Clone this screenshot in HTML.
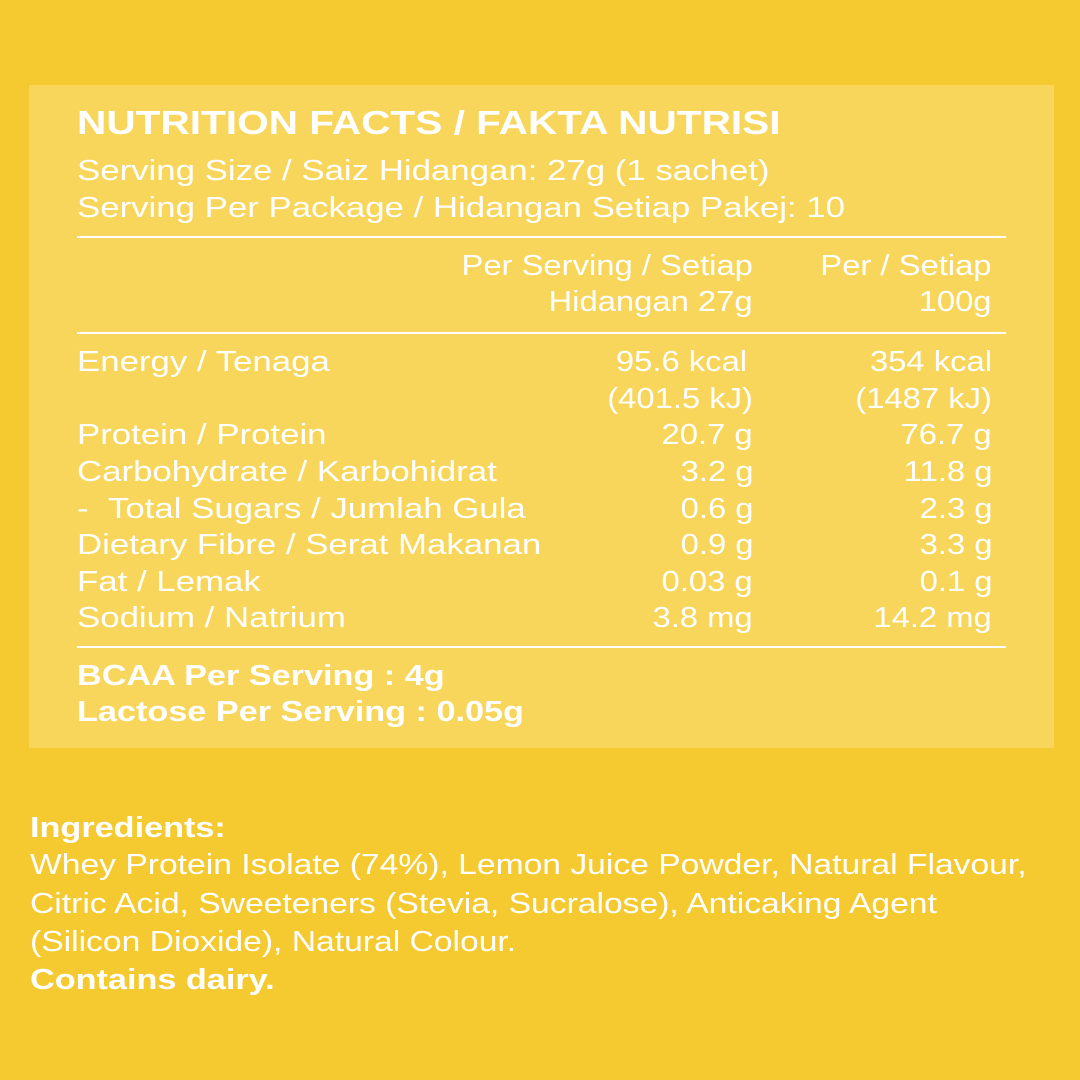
<!DOCTYPE html>
<html><head><meta charset="utf-8"><style>
body{margin:0;width:1080px;height:1080px;background:#F5CA30;position:relative;overflow:hidden;font-family:"Liberation Sans",sans-serif;color:#fff}
.p{position:absolute;left:29px;top:85px;width:1025px;height:663px;background:#F7D65B}
.t{position:absolute;height:36px;line-height:36px;font-size:29px;white-space:nowrap;transform:scaleX(1.2);transform-origin:left center}
.r{text-align:right;transform:scaleX(1.13);transform-origin:right center}
.b{font-weight:bold;transform:scaleX(1.18)}
.l{position:absolute;left:77px;width:929px;height:1.5px;background:#fff}
</style></head><body>
<div class="p"></div>
<div class="t b" style="left:77px;top:105px;font-size:33px;transform:scaleX(1.23)">NUTRITION FACTS / FAKTA NUTRISI</div>
<div class="t" style="left:77px;top:153px">Serving Size / Saiz Hidangan: 27g (1 sachet)</div>
<div class="t" style="left:77px;top:190px">Serving Per Package / Hidangan Setiap Pakej: 10</div>
<div class="l" style="top:236px"></div>
<div class="t r" style="right:327px;top:248px">Per Serving / Setiap</div>
<div class="t r" style="right:327px;top:284px">Hidangan 27g</div>
<div class="t r" style="right:88px;top:248px">Per / Setiap</div>
<div class="t r" style="right:88px;top:284px">100g</div>
<div class="l" style="top:332px"></div>
<div class="t" style="left:77px;top:344px">Energy / Tenaga</div>
<div class="t r" style="right:333px;top:344px">95.6 kcal</div>
<div class="t r" style="right:88px;top:344px">354 kcal</div>
<div class="t r" style="right:327px;top:381px">(401.5 kJ)</div>
<div class="t r" style="right:88px;top:381px">(1487 kJ)</div>
<div class="t" style="left:77px;top:417px">Protein / Protein</div>
<div class="t r" style="right:327px;top:417px">20.7 g</div>
<div class="t r" style="right:88px;top:417px">76.7 g</div>
<div class="t" style="left:77px;top:454px">Carbohydrate / Karbohidrat</div>
<div class="t r" style="right:327px;top:454px">3.2 g</div>
<div class="t r" style="right:88px;top:454px">11.8 g</div>
<div class="t" style="left:77px;top:491px">-&nbsp;&nbsp;Total Sugars / Jumlah Gula</div>
<div class="t r" style="right:327px;top:491px">0.6 g</div>
<div class="t r" style="right:88px;top:491px">2.3 g</div>
<div class="t" style="left:77px;top:527px">Dietary Fibre / Serat Makanan</div>
<div class="t r" style="right:327px;top:527px">0.9 g</div>
<div class="t r" style="right:88px;top:527px">3.3 g</div>
<div class="t" style="left:77px;top:564px">Fat / Lemak</div>
<div class="t r" style="right:327px;top:564px">0.03 g</div>
<div class="t r" style="right:88px;top:564px">0.1 g</div>
<div class="t" style="left:77px;top:600px">Sodium / Natrium</div>
<div class="t r" style="right:327px;top:600px">3.8 mg</div>
<div class="t r" style="right:88px;top:600px">14.2 mg</div>
<div class="l" style="top:646px"></div>
<div class="t b" style="left:77px;top:658px">BCAA Per Serving : 4g</div>
<div class="t b" style="left:77px;top:694px">Lactose Per Serving : 0.05g</div>
<div class="t b" style="left:30px;top:810px">Ingredients:</div>
<div class="t" style="left:30px;top:847px;transform:scaleX(1.16)">Whey Protein Isolate (74%), Lemon Juice Powder, Natural Flavour,</div>
<div class="t" style="left:30px;top:886px;transform:scaleX(1.16)">Citric Acid, Sweeteners (Stevia, Sucralose), Anticaking Agent</div>
<div class="t" style="left:30px;top:924px;transform:scaleX(1.16)">(Silicon Dioxide), Natural Colour.</div>
<div class="t b" style="left:30px;top:962px">Contains dairy.</div>
</body></html>
